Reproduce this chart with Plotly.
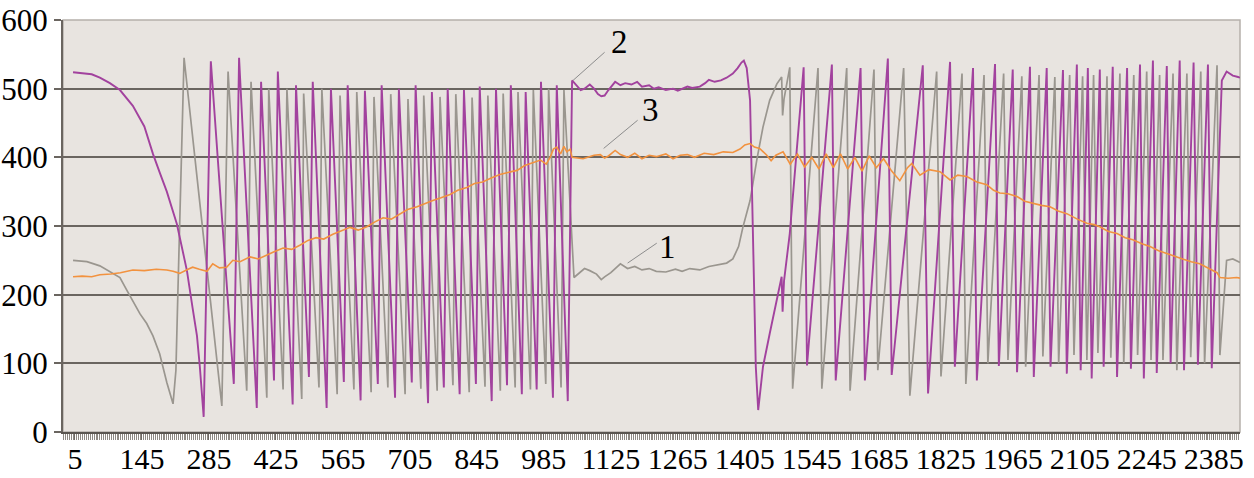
import plotly.graph_objects as go

# ---- x tick labels (sample index) ----
tick_vals = [5, 145, 285, 425, 565, 705, 845, 985, 1125, 1265, 1405, 1545, 1685, 1825, 1965, 2105, 2245, 2385]
tick_text = [str(v) for v in tick_vals]
y_ticks = [0, 100, 200, 300, 400, 500, 600]

# ---- series 1 (gray) : vertices ----
gray_x = [1, 30, 57, 78, 99, 113, 126, 141, 155, 168, 182, 197, 210, 216, 220, 224, 229, 233,
          312, 325, 364, 373, 406, 410, 440, 448, 479, 483,
          515, 521, 553, 559, 588, 594, 624, 630, 659, 665, 695, 701, 728, 734, 762, 768, 795, 801,
          829, 835, 862, 868, 894, 900, 925, 931, 957, 963, 989, 995, 1021, 1027,
          1048, 1060, 1070, 1081, 1095, 1105, 1112, 1125, 1134, 1145, 1160, 1175, 1190, 1205, 1220,
          1240, 1260, 1274, 1290, 1311, 1330, 1350, 1367, 1380, 1392, 1401, 1416, 1430, 1443, 1457,
          1472, 1482, 1484, 1487, 1499,
          1505, 1558, 1566, 1618, 1625, 1675, 1683, 1737, 1750, 1806, 1815, 1859, 1867, 1905, 1913,
          1946, 1955, 1984, 1992, 2020, 2028, 2053, 2061, 2084, 2093, 2111, 2120, 2134, 2143, 2162,
          2170, 2189, 2197, 2218, 2226, 2245, 2254, 2272, 2279, 2300, 2308, 2329, 2337, 2358, 2366,
          2392, 2398, 2412, 2425, 2436, 2440]
gray_y = [250, 248, 242, 234, 225, 207, 190, 172, 158, 140, 114, 72, 41, 90, 200, 320, 460, 545,
          38, 525, 60, 510, 50, 500, 62, 500, 48, 493,
          65, 500, 55, 490, 62, 495, 58, 488, 65, 492, 55, 485, 63, 490, 60, 488, 68, 492,
          58, 487, 66, 490, 60, 493, 65, 495, 62, 498, 70, 500, 65, 498,
          225, 232, 238, 235, 230, 222, 226, 232, 238, 245, 238, 241, 236, 238, 234,
          233, 237, 234, 238, 236, 241, 244, 246, 252, 270, 298, 337, 396, 444, 483,
          507, 517, 461, 485, 531,
          63, 530, 63, 530, 60, 528, 90, 530, 53, 525, 81, 522, 70, 520, 100,
          522, 105, 518, 95, 520, 110, 517, 100, 520, 112, 518, 105, 520, 115, 518,
          108, 522, 100, 520, 112, 525, 105, 520, 105, 522, 90, 522, 109, 525, 100,
          534, 112, 250, 252, 248, 247]

# ---- series 2 (purple) ----
purple_x = [1, 20, 40, 57, 78, 99, 126, 150, 168, 182, 197, 218, 239, 251, 260, 266, 274,
            289, 337, 348, 385, 394, 421, 429, 460, 467, 494, 502,
            531, 540, 567, 575, 602, 611, 638, 646, 674, 682, 709, 717, 743, 751, 776, 784,
            809, 818, 843, 851, 876, 885, 908, 916, 939, 947, 970, 979, 1004, 1012, 1035, 1044,
            1055, 1062, 1070, 1081, 1090, 1098, 1105, 1112, 1120, 1134, 1145, 1155, 1168, 1180,
            1190, 1205, 1215, 1225, 1240, 1255, 1265, 1274, 1285, 1295, 1311, 1322, 1330, 1342,
            1355, 1367, 1380, 1390, 1398, 1403, 1409, 1416, 1422, 1428, 1433, 1443, 1457, 1472,
            1482, 1484, 1487, 1499, 1528,
            1535, 1587, 1595, 1647, 1656, 1704, 1712, 1777, 1788, 1834, 1844, 1882, 1890, 1928,
            1936, 1965, 1974, 2001, 2009, 2036, 2044, 2070, 2078, 2099, 2107, 2122, 2130, 2147,
            2155, 2174, 2183, 2204, 2212, 2231, 2239, 2258, 2266, 2287, 2295, 2314, 2323, 2343,
            2352, 2373, 2381, 2402, 2412, 2425, 2436, 2440]
purple_y = [524, 523, 521, 516, 508, 498, 475, 445, 405, 378, 350, 303, 235, 180, 140, 95, 22,
            540, 70, 545, 35, 510, 75, 525, 40, 505, 80, 510,
            35, 500, 73, 505, 46, 497, 70, 505, 50, 500, 72, 505, 42, 495, 65, 500,
            55, 498, 70, 503, 45, 500, 68, 505, 55, 495, 62, 510, 50, 505, 45, 512,
            504, 498, 500, 506, 500, 492, 489, 490, 498, 510, 505, 508, 506, 510,
            503, 505, 500, 502, 498, 500, 497, 500, 503, 501, 503, 508, 513, 510,
            512, 516, 522, 530, 538, 541, 530, 483, 289, 95, 32, 95, 143, 192,
            226, 175, 220, 289, 531,
            97, 535, 75, 530, 75, 544, 83, 534, 56, 539, 95, 530, 75, 536,
            96, 528, 87, 532, 80, 530, 95, 527, 85, 535, 90, 530, 78, 528,
            95, 532, 80, 530, 92, 535, 78, 541, 86, 533, 100, 541, 90, 538,
            98, 535, 93, 512, 525, 519, 517, 516]

# ---- series 3 (orange) ----
orange_x = [1, 20, 40, 57, 80, 100, 126, 150, 175, 197, 210, 224, 238, 251, 265, 281, 293, 307,
            322, 335, 350, 371, 388, 406, 420, 440, 458, 475, 492, 509, 525, 544, 560, 580, 597,
            615, 632, 649, 666, 684, 700, 720, 737, 753, 770, 789, 805, 824, 840, 857, 875, 893,
            910, 929, 945, 962, 978, 990, 998, 1005, 1012, 1020, 1027, 1033, 1040, 1044, 1055,
            1067, 1080, 1090, 1103, 1112, 1120, 1134, 1145, 1160, 1175, 1190, 1205, 1220, 1240,
            1255, 1270, 1285, 1300, 1320, 1340, 1360, 1380, 1395, 1405, 1416, 1425, 1436, 1451,
            1460, 1470, 1485, 1500, 1515, 1530, 1545, 1560, 1575, 1590, 1605, 1620, 1635, 1650,
            1665, 1680, 1695, 1712, 1729, 1745, 1754, 1771, 1790, 1813, 1834, 1850, 1869, 1890,
            1911, 1925, 1938, 1955, 1974, 1990, 2007, 2025, 2043, 2060, 2078, 2100, 2120, 2135,
            2147, 2165, 2183, 2200, 2216, 2235, 2252, 2270, 2287, 2305, 2320, 2338, 2356, 2370,
            2383, 2392, 2398, 2415, 2433, 2440]
orange_y = [226, 227, 226, 229, 230, 232, 236, 235, 237, 236, 234, 231, 236, 240, 237, 234, 245, 239,
            240, 250, 248, 255, 252, 258, 262, 268, 266, 272, 279, 283, 281, 288, 292, 298, 294,
            299, 306, 312, 310, 318, 324, 328, 333, 337, 341, 346, 352, 356, 362, 364, 370, 375,
            378, 381, 388, 392, 396, 390, 400, 412, 415, 405, 416, 408, 412, 400, 399,
            398, 401, 403, 404, 399, 402, 410, 404, 400, 406, 398, 403, 401, 405,
            398, 403, 404, 400, 406, 404, 408, 407, 412, 418, 420, 415, 413, 403,
            395, 403, 408, 390, 405, 386, 400, 383, 405, 385, 405, 383, 400, 380,
            402, 385, 398, 380, 366, 385, 391, 374, 382, 379, 367, 374, 372, 364,
            360, 352, 348, 347, 343, 336, 333, 330, 328, 322, 318, 310, 304, 302,
            299, 292, 289, 283, 280, 274, 270, 264, 260, 255, 252, 248, 245, 240,
            235, 232, 225, 224, 225, 224]

# ---- callout labels ----
label_text = ["1", "2", "3"]
label_x = [1244, 1144, 1207]
label_y = [269, 568, 469]
leader_x0 = [1160, 1046, 1110]
leader_y0 = [246, 512, 413]
leader_x1 = [1221, 1112, 1181]
leader_y1 = [275, 553, 454]

SERIF = "Liberation Serif"

fig = go.Figure()
fig.add_trace(go.Scatter(x=gray_x, y=gray_y, mode="lines", name="1",
                         line=dict(color="#9A968F", width=1.7)))
fig.add_trace(go.Scatter(x=purple_x, y=purple_y, mode="lines", name="2",
                         line=dict(color="#A2429E", width=1.9)))
fig.add_trace(go.Scatter(x=orange_x, y=orange_y, mode="lines", name="3",
                         line=dict(color="#F2923F", width=1.6)))

for t, x, y in zip(label_text, label_x, label_y):
    fig.add_annotation(x=x, y=y, xref="x", yref="y", text=t, showarrow=False,
                       font=dict(family=SERIF, size=33, color="black"))
for x0, y0, x1, y1 in zip(leader_x0, leader_y0, leader_x1, leader_y1):
    fig.add_shape(type="line", xref="x", yref="y", x0=x0, y0=y0, x1=x1, y1=y1,
                  line=dict(color="#8C8C8C", width=1))

fig.update_layout(
    width=1254, height=478,
    margin=dict(l=63, r=14, t=20, b=46),
    plot_bgcolor="#E8E4E0", paper_bgcolor="white",
    showlegend=False,
    font=dict(family=SERIF),
)
fig.update_xaxes(
    range=[-20, 2440], autorange=False, automargin=False,
    tickmode="array", tickvals=tick_vals, ticktext=tick_text,
    ticks="outside", ticklen=6, tickcolor="#6E6964", tickwidth=1,
    ticklabelstandoff=-7,
    showgrid=False, zeroline=False,
    showline=True, linecolor="#5A5550", linewidth=2,
    tickfont=dict(family=SERIF, size=30, color="black"),
    minor=dict(ticks="outside", tick0=1, dtick=4, ticklen=6, tickcolor="#8E8983", tickwidth=1),
)
fig.update_yaxes(
    range=[0, 600], autorange=False, automargin=False,
    tickmode="array", tickvals=y_ticks,
    showgrid=True, gridcolor="#6A6560", gridwidth=2,
    ticks="outside", ticklen=7, tickcolor="#6A6560", tickwidth=2,
    zeroline=False, showline=True, linecolor="#6A6560", linewidth=2,
    tickfont=dict(family=SERIF, size=31, color="black"),
)
fig.add_shape(type="rect", xref="paper", yref="paper", x0=0, y0=0, x1=1, y1=1,
              line=dict(color="#B5B0AA", width=1.5), layer="below")

fig.write_html("out.html")
